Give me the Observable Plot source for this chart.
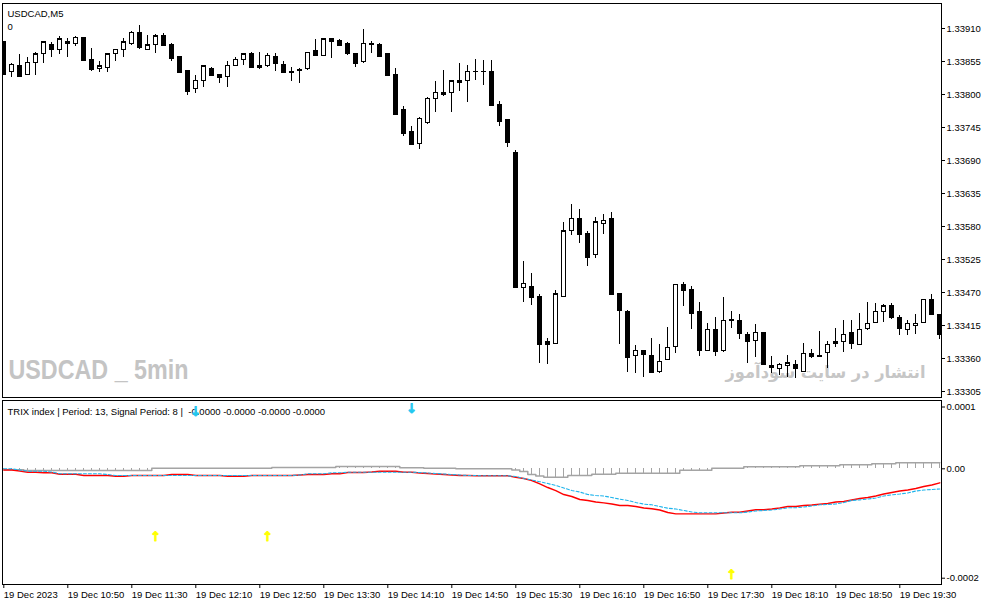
<!DOCTYPE html>
<html>
<head>
<meta charset="utf-8">
<script src="https://cdn.jsdelivr.net/npm/d3@7"></script>
<script src="https://cdn.jsdelivr.net/npm/@observablehq/plot@0.6"></script>
<style>
  body { margin: 0; background: #fff; }
  #chart { width: 987px; height: 605px; }
  #chart svg { display: block; }
</style>
</head>
<body>
<div id="chart"></div>
<script>
// USDCAD M5 candles, 19 Dec 2023 10:10 .. 19:55 (one entry per bar)
const opens = [
  1.33887,1.33838,1.33848,1.33833,1.33853,1.33867,1.33883,1.33875,1.33888,1.33885,
  1.33895,1.33857,1.33842,1.33845,1.33867,1.33875,1.33885,1.33902,1.33875,1.33882,
  1.33898,1.33882,1.33862,1.33840,1.33810,1.33822,1.33843,1.33832,1.33830,1.33848,
  1.33858,1.33868,1.33847,1.33847,1.33862,1.33850,1.33838,1.33840,1.33842,1.33872,
  1.33865,1.33892,1.33890,1.33885,1.33867,1.33855,1.33885,1.33883,1.33867,1.33832,
  1.33775,1.33737,1.33718,1.33753,1.33792,1.33803,1.33803,1.33823,1.33822,1.33838,
  1.33838,1.33838,1.33783,1.33757,1.33703,1.33478,1.33480,1.33462,1.33388,1.33385,
  1.33462,1.33572,1.33593,1.33568,1.33533,1.33585,1.33592,1.33468,1.33438,1.33365,
  1.33372,1.33365,1.33338,1.33357,1.33380,1.33482,1.33475,1.33437,1.33372,1.33408,
  1.33373,1.33425,1.33422,1.33400,1.33390,1.33402,1.33348,1.33342,1.33348,1.33350,
  1.33338,1.33367,1.33362,1.33370,1.33387,1.33388,1.33402,1.33383,1.33410,1.33420,
  1.33437,1.33448,1.33428,1.33408,1.33415,1.33420,1.33457,1.33432
];
const highs = [
  1.33887,1.33852,1.33867,1.33862,1.33870,1.33888,1.33887,1.33897,1.33893,1.33897,
  1.33895,1.33877,1.33855,1.33868,1.33875,1.33893,1.33905,1.33915,1.33898,1.33900,
  1.33902,1.33885,1.33862,1.33840,1.33832,1.33848,1.33845,1.33832,1.33855,1.33862,
  1.33867,1.33870,1.33870,1.33868,1.33868,1.33855,1.33845,1.33843,1.33870,1.33892,
  1.33893,1.33893,1.33892,1.33887,1.33868,1.33908,1.33888,1.33885,1.33867,1.33843,
  1.33780,1.33747,1.33762,1.33795,1.33822,1.33840,1.33822,1.33852,1.33848,1.33858,
  1.33857,1.33857,1.33788,1.33758,1.33706,1.33522,1.33502,1.33467,1.33393,1.33473,
  1.33587,1.33617,1.33608,1.33572,1.33595,1.33600,1.33603,1.33468,1.33440,1.33382,
  1.33373,1.33393,1.33383,1.33412,1.33483,1.33487,1.33480,1.33453,1.33418,1.33428,
  1.33462,1.33438,1.33433,1.33403,1.33417,1.33402,1.33363,1.33352,1.33365,1.33357,
  1.33385,1.33375,1.33405,1.33388,1.33410,1.33423,1.33423,1.33435,1.33453,1.33452,
  1.33450,1.33452,1.33432,1.33423,1.33433,1.33458,1.33467,1.33432
];
const lows = [
  1.33832,1.33828,1.33830,1.33832,1.33832,1.33852,1.33862,1.33867,1.33862,1.33880,
  1.33855,1.33838,1.33837,1.33837,1.33855,1.33862,1.33882,1.33875,1.33875,1.33868,
  1.33880,1.33855,1.33837,1.33798,1.33802,1.33812,1.33832,1.33818,1.33812,1.33847,
  1.33848,1.33843,1.33842,1.33845,1.33838,1.33835,1.33822,1.33818,1.33840,1.33865,
  1.33865,1.33860,1.33880,1.33865,1.33845,1.33852,1.33868,1.33862,1.33830,1.33767,
  1.33730,1.33717,1.33708,1.33750,1.33770,1.33797,1.33770,1.33805,1.33787,1.33823,
  1.33815,1.33782,1.33747,1.33712,1.33478,1.33453,1.33448,1.33352,1.33350,1.33385,
  1.33462,1.33565,1.33552,1.33513,1.33527,1.33567,1.33467,1.33383,1.33337,1.33335,
  1.33328,1.33337,1.33335,1.33357,1.33368,1.33447,1.33408,1.33363,1.33372,1.33363,
  1.33370,1.33410,1.33392,1.33352,1.33362,1.33348,1.33335,1.33332,1.33328,1.33327,
  1.33338,1.33360,1.33362,1.33343,1.33378,1.33370,1.33375,1.33383,1.33407,1.33420,
  1.33420,1.33425,1.33398,1.33398,1.33400,1.33420,1.33433,1.33392
];
const closes = [
  1.33833,1.33850,1.33830,1.33853,1.33867,1.33887,1.33875,1.33892,1.33885,1.33895,
  1.33857,1.33842,1.33847,1.33867,1.33875,1.33887,1.33903,1.33878,1.33882,1.33897,
  1.33882,1.33860,1.33837,1.33805,1.33823,1.33847,1.33832,1.33828,1.33848,1.33858,
  1.33867,1.33845,1.33845,1.33865,1.33852,1.33837,1.33837,1.33841,1.33870,1.33865,
  1.33892,1.33888,1.33882,1.33868,1.33852,1.33885,1.33883,1.33863,1.33832,1.33767,
  1.33735,1.33717,1.33760,1.33793,1.33803,1.33800,1.33822,1.33820,1.33838,1.33838,
  1.33838,1.33782,1.33755,1.33720,1.33478,1.33485,1.33462,1.33383,1.33383,1.33467,
  1.33572,1.33593,1.33567,1.33528,1.33587,1.33590,1.33467,1.33440,1.33362,1.33373,
  1.33367,1.33337,1.33355,1.33378,1.33483,1.33473,1.33435,1.33373,1.33408,1.33372,
  1.33423,1.33423,1.33402,1.33388,1.33403,1.33350,1.33345,1.33350,1.33352,1.33343,
  1.33368,1.33363,1.33365,1.33383,1.33385,1.33400,1.33385,1.33408,1.33418,1.33438,
  1.33447,1.33428,1.33410,1.33418,1.33418,1.33458,1.33433,1.33400
];

// TRIX pane, values in millionths (1e-6)
const trix = [
  -2.2,-2.2,-4.0,-6.2,-6.2,-7.3,-7.3,-9.9,-9.9,-9.9,
  -12.2,-12.2,-12.2,-12.2,-13.5,-13.5,-12.2,-12.2,-12.2,-12.2,
  -12.2,-10.4,-10.4,-10.4,-12.2,-12.2,-12.2,-12.2,-13.5,-13.5,
  -13.5,-12.2,-12.2,-12.2,-12.2,-12.2,-12.2,-11.3,-10.4,-10.4,
  -10.4,-9.1,-9.1,-6.8,-6.8,-6.8,-5.8,-4.4,-4.4,-4.4,
  -6.2,-6.2,-7.7,-8.6,-9.5,-10.4,-11.3,-12.2,-12.2,-12.8,
  -12.8,-12.8,-12.8,-12.8,-15.4,-17.7,-21.4,-27.4,-34.2,-39.7,
  -47.0,-50.6,-56.1,-57.9,-60.7,-62.2,-64.3,-67.1,-67.1,-69.0,
  -71.7,-73.1,-75.3,-79.9,-82.3,-82.3,-82.3,-82.3,-82.3,-82.3,
  -80.8,-79.3,-79.3,-77.1,-74.9,-74.9,-73.5,-71.7,-69.0,-69.0,
  -67.1,-66.2,-64.7,-63.4,-60.7,-59.8,-57.0,-54.3,-52.5,-49.7,
  -46.1,-43.3,-40.6,-38.8,-36.0,-32.4,-29.6,-25.6
];
const signal = [
  0,0,-2.2,-4.4,-4.4,-4.4,-5.8,-9.1,-9.1,-9.1,
  -9.1,-9.1,-9.1,-10.4,-12.2,-12.2,-12.2,-12.2,-12.2,-12.2,
  -12.2,-12.2,-12.2,-12.2,-12.2,-12.2,-12.2,-12.2,-12.2,-12.2,
  -12.2,-12.2,-12.2,-12.2,-12.2,-12.2,-12.2,-11.3,-9.1,-9.1,
  -9.1,-7.3,-7.3,-6.2,-6.2,-6.2,-6.2,-6.2,-6.2,-6.2,
  -6.2,-6.2,-6.8,-7.7,-8.6,-9.5,-10.4,-11.3,-12.2,-12.2,
  -12.8,-12.8,-12.8,-12.8,-14.1,-17.7,-20.5,-23.5,-26.9,-30.5,
  -35.1,-39.7,-42.4,-47.0,-48.8,-49.7,-52.5,-55.5,-57.9,-61.6,
  -64.5,-65.8,-69.0,-72.0,-73.5,-76.2,-79.0,-80.4,-80.4,-80.4,
  -80.4,-80.4,-80.4,-79.0,-77.1,-76.2,-75.3,-73.5,-71.3,-71.3,
  -69.8,-68.0,-65.8,-65.0,-64.3,-61.6,-57.9,-56.7,-55.2,-53.4,
  -49.7,-47.5,-46.1,-44.2,-40.6,-38.8,-37.8,-36.9
];
const hist = [
  -1.8,-1.8,-1.8,-3.1,-3.1,-3.1,-3.1,-3.1,-3.1,-3.1,
  -3.1,-3.1,-3.1,-3.1,-3.1,-3.1,-3.1,-3.1,-3.1,1.1,
  1.1,1.1,1.1,1.1,1.1,1.1,1.1,1.1,1.1,1.1,
  1.1,1.1,1.1,1.1,2.4,2.4,2.4,2.4,2.4,2.4,
  2.4,2.4,4.2,4.2,4.2,4.2,4.2,4.2,4.2,4.2,
  1.8,1.8,1.8,0.9,0.9,0.9,0.9,0,0,0,
  0,0,0,0,-2.2,-4.9,-10.4,-13.2,-15.4,-15.4,
  -15.4,-12.2,-12.2,-12.2,-9.9,-9.9,-9.9,-8.0,-8.0,-8.0,
  -8.0,-8.0,-8.0,-8.0,-8.0,-2.6,-2.6,-2.6,-2.6,1.1,
  1.1,1.1,1.1,3.7,3.7,3.7,3.7,3.7,3.7,3.7,
  5.5,5.5,5.5,5.5,5.5,7.3,7.3,7.3,7.3,9.1,
  9.1,9.1,11.0,11.0,11.0,11.0,11.0,11.0
];

// signal arrows (bar index, value in millionths)
const sellArrowBars = [24, 51];
const sellArrowValues = [104, 110];
const buyArrowBars = [19, 33, 91];
const buyArrowValues = [-125, -125, -194];

// axes
const priceTicks = [1.33305,1.33360,1.33415,1.33470,1.33525,1.33580,1.33635,1.33690,1.33745,1.33800,1.33855,1.33910];
const trixTickValues = [113, 0, -200];
const trixTickLabels = ["0.0001", "0.00", "-0.0002"];
const timeTickBars = [0, 8, 16, 24, 32, 40, 48, 56, 64, 72, 80, 88, 96, 104, 112];
const timeTickLabels = ["19 Dec 2023","19 Dec 10:50","19 Dec 11:30","19 Dec 12:10","19 Dec 12:50",
  "19 Dec 13:30","19 Dec 14:10","19 Dec 14:50","19 Dec 15:30","19 Dec 16:10","19 Dec 16:50",
  "19 Dec 17:30","19 Dec 18:10","19 Dec 18:50","19 Dec 19:30"];

const bars = opens.map((o, i) => ({i, o, h: highs[i], l: lows[i], c: closes[i],
  trix: trix[i], signal: signal[i], hist: hist[i]}));
const sells = sellArrowBars.map((b, k) => ({i: b, v: sellArrowValues[k]}));
const buys = buyArrowBars.map((b, k) => ({i: b, v: buyArrowValues[k]}));

const W = 987;
const xDomain = [-0.1625, 117.2125];
const font = {fontFamily: "Liberation Sans, Arial, sans-serif", fontSize: "9.5px", background: "#fff", overflow: "visible"};

const priceChart = Plot.plot({
  width: W, height: 399,
  marginLeft: 2, marginRight: 46, marginTop: 3, marginBottom: 2,
  style: font,
  x: {domain: xDomain, axis: null},
  y: {domain: [1.33295, 1.3395167], axis: null},
  marks: [
    Plot.text(["USDCAD _ 5min"], {frameAnchor: "bottom-left", dx: 6, dy: -19, textAnchor: "start",
      fontSize: 28, fontWeight: "bold", fill: "#c4c4c4", fontFamily: "Liberation Sans", className: "wm-en"}),
    Plot.text(["انتشار در سایت سودآموز"], {frameAnchor: "bottom-right", dx: -116, dy: -20, textAnchor: "middle",
      fontSize: 17, fontWeight: "bold", fill: "#c6c6c6", fontFamily: "DejaVu Sans", className: "wm-fa"}),
    Plot.frame({stroke: "#000"}),
    Plot.axisY({anchor: "right", ticks: priceTicks, tickFormat: d => d.toFixed(5), tickSize: 3, tickPadding: 2, label: null}),
    Plot.ruleX(bars, {x: "i", y1: "l", y2: "h", stroke: "#000", clip: true, shapeRendering: "crispEdges"}),
    Plot.rect(bars, {x1: d => d.i - 0.25, x2: d => d.i + 0.25, y1: "o", y2: "c",
      fill: d => d.c < d.o ? "#000" : "#fff", stroke: "#000", clip: true, shapeRendering: "crispEdges"}),
    Plot.ruleY(bars, {y: "c", x1: d => d.i - 0.3, x2: d => d.i + 0.3, stroke: "#000", clip: true, shapeRendering: "crispEdges"}),
    Plot.text(["USDCAD,M5"], {frameAnchor: "top-left", dx: 5, dy: 7, textAnchor: "start", fill: "#000"}),
    Plot.text(["0"], {frameAnchor: "top-left", dx: 5, dy: 20, textAnchor: "start", fill: "#000"})
  ]
});

const trixChart = Plot.plot({
  width: W, height: 206,
  marginLeft: 2, marginRight: 46, marginTop: 1, marginBottom: 21,
  style: font,
  x: {domain: xDomain},
  y: {domain: [-211.5, 124.9]},
  marks: [
    Plot.frame({stroke: "#000"}),
    Plot.axisY({anchor: "right", ticks: trixTickValues, tickFormat: d => trixTickLabels[trixTickValues.indexOf(d)],
      tickSize: 3, tickPadding: 2, label: null}),
    Plot.axisX({ticks: timeTickBars, tickFormat: d => timeTickLabels[timeTickBars.indexOf(d)],
      textAnchor: "start", tickSize: 4, tickPadding: 3, label: null}),
    Plot.ruleX(bars, {x: "i", y1: 0, y2: "hist", stroke: "#a4a4a4", clip: true, shapeRendering: "crispEdges"}),
    Plot.line(bars, {x: "i", y: "hist", stroke: "#a4a4a4", curve: "step", clip: true}),
    Plot.line(bars, {x: "i", y: "trix", stroke: "#ff0000", strokeWidth: 1.4, clip: true}),
    Plot.line(bars, {x: "i", y: "signal", stroke: "#1eb4ec", strokeWidth: 1.1, strokeDasharray: "3,2", clip: true}),
    Plot.text(["TRIX index | Period: 13, Signal Period: 8 |  -0.0000 -0.0000 -0.0000 -0.0000"],
      {frameAnchor: "top-left", dx: 5, dy: 8, textAnchor: "start", fill: "#000"}),
    Plot.text(sells, {x: "i", y: "v", text: () => "↓", fill: "#1ec8f0", stroke: "#1ec8f0", strokeWidth: 0.8,
      fontSize: 13, fontWeight: "bold", fontFamily: "DejaVu Sans"}),
    Plot.text(buys, {x: "i", y: "v", text: () => "↑", fill: "#ffff00", stroke: "#ffff00", strokeWidth: 0.8,
      fontSize: 13, fontWeight: "bold", fontFamily: "DejaVu Sans"})
  ]
});

d3.select(priceChart).select(".wm-en text").attr("textLength", 180).attr("lengthAdjust", "spacingAndGlyphs");
d3.select(priceChart).select(".wm-fa text").attr("textLength", 200).attr("lengthAdjust", "spacingAndGlyphs");

d3.select("#chart").append(() => priceChart);
d3.select("#chart").append(() => trixChart);
</script>
</body>
</html>
